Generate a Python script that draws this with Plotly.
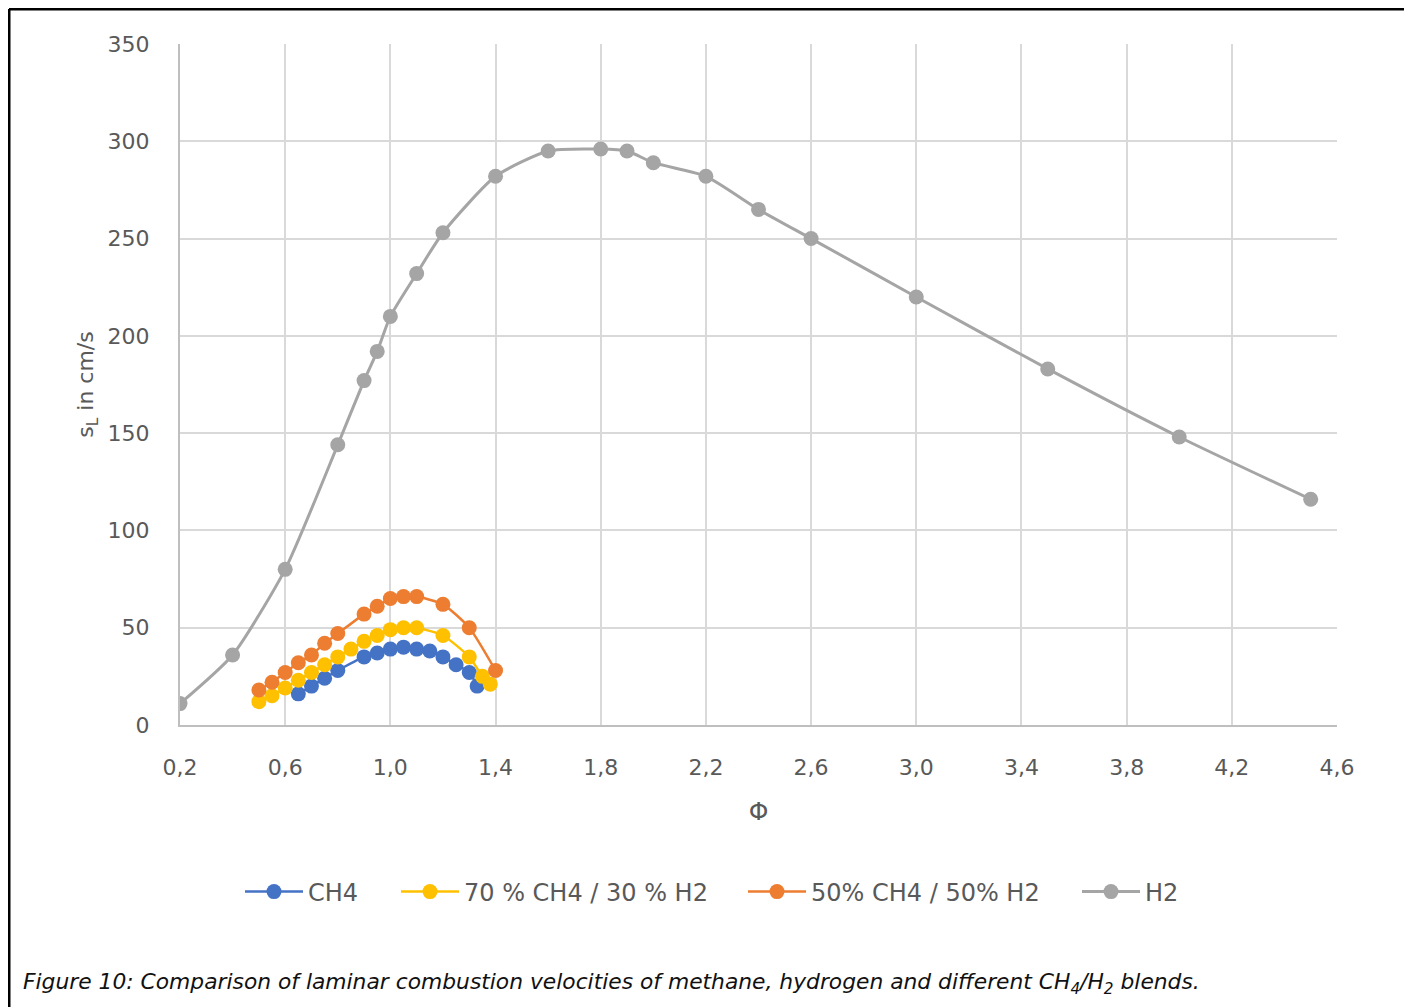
import plotly.graph_objects as go

# ---- data ----
ch4_x = [0.65, 0.7, 0.75, 0.8, 0.9, 0.95, 1.0, 1.05, 1.1, 1.15, 1.2, 1.25, 1.3, 1.33]
ch4_y = [16, 20, 24, 28, 35, 37, 39, 40, 39, 38, 35, 31, 27, 20]

b70_x = [0.5, 0.55, 0.6, 0.65, 0.7, 0.75, 0.8, 0.85, 0.9, 0.95, 1.0, 1.05, 1.1, 1.2, 1.3, 1.35, 1.38]
b70_y = [12, 15, 19, 23, 27, 31, 35, 39, 43, 46, 49, 50, 50, 46, 35, 25, 21]

b50_x = [0.5, 0.55, 0.6, 0.65, 0.7, 0.75, 0.8, 0.9, 0.95, 1.0, 1.05, 1.1, 1.2, 1.3, 1.4]
b50_y = [18, 22, 27, 32, 36, 42, 47, 57, 61, 65, 66, 66, 62, 50, 28]

h2_x = [0.2, 0.4, 0.6, 0.8, 0.9, 0.95, 1.0, 1.1, 1.2, 1.4, 1.6, 1.8, 1.9, 2.0, 2.2, 2.4, 2.6, 3.0, 3.5, 4.0, 4.5]
h2_y = [11, 36, 80, 144, 177, 192, 210, 232, 253, 282, 295, 296, 295, 289, 282, 265, 250, 220, 183, 148, 116]

series_names = ["CH4", "70 % CH4 / 30 % H2", "50% CH4 / 50% H2", "H2"]
series_x = [ch4_x, b70_x, b50_x, h2_x]
series_y = [ch4_y, b70_y, b50_y, h2_y]
series_colors = ["#4472c4", "#ffc000", "#ed7d31", "#a5a5a5"]
series_widths = [2.5, 2.5, 2.5, 3]
legend_left_px = [243, 399, 746, 1080]   # page x of each legend entry

x_ticks = [0.2, 0.6, 1.0, 1.4, 1.8, 2.2, 2.6, 3.0, 3.4, 3.8, 4.2, 4.6]
y_ticks = [0, 50, 100, 150, 200, 250, 300, 350]

caption = ("Figure 10: Comparison of laminar combustion velocities of methane, hydrogen and "
           "different CH<sub>4</sub>/H<sub>2</sub> blends.")

FONT = "DejaVu Sans"
GREY = "#595959"

# page has an 8px body margin; work in page pixel coords and shift
OFF = 8
W, H = 1412 - OFF, 1007 - OFF
L, R, T, B = 180 - OFF, W - (1337 - OFF), 44 - OFF, H - (725 - OFF)
pw, ph = W - L - R, H - T - B

def px(xp):
    return (xp - OFF - L) / pw

def py(yp):
    return (H - B - (yp - OFF)) / ph

fig = go.Figure()
legend_layouts = {}
for i, (name, xs, ys, col, lw) in enumerate(zip(series_names, series_x, series_y,
                                                 series_colors, series_widths)):
    lg = "legend" if i == 0 else f"legend{i + 1}"
    fig.add_trace(go.Scatter(
        x=xs, y=ys, name=name, mode="lines+markers",
        line=dict(color=col, width=lw, shape="spline", smoothing=0.6),
        marker=dict(color=col, size=15),
        legend=lg,
    ))
    legend_layouts[lg] = dict(
        orientation="h", x=px(legend_left_px[i] - 3), y=py(892),
        xanchor="left", yanchor="middle",
        font=dict(family=FONT, size=24, color=GREY), itemwidth=58,
        bgcolor="rgba(0,0,0,0)",
    )

fig.update_layout(
    width=W, height=H,
    margin=dict(l=L, r=R, t=T, b=B),
    plot_bgcolor="white", paper_bgcolor="white",
    separators=",.",
    font=dict(family=FONT, size=20, color=GREY),
    xaxis=dict(
        range=[0.2, 4.6], tickvals=x_ticks, tickformat=".1f",
        showgrid=True, gridcolor="#d9d9d9", gridwidth=2,
        showline=True, linecolor="#bfbfbf", linewidth=2,
        zeroline=False, ticks="", ticklabelstandoff=22,
        tickfont=dict(family=FONT, size=22, color=GREY),
        title=dict(text="Φ", font=dict(family=FONT, size=25, color=GREY), standoff=23),
    ),
    yaxis=dict(
        range=[0, 350], tickvals=y_ticks,
        showgrid=True, gridcolor="#d9d9d9", gridwidth=2,
        showline=True, linecolor="#bfbfbf", linewidth=2,
        zeroline=False, ticks="", ticklabelstandoff=24,
        tickfont=dict(family=FONT, size=22, color=GREY),
        title=dict(text="s<sub>L</sub> in cm/s", font=dict(family=FONT, size=22, color=GREY), standoff=8),
    ),
    showlegend=True,
    **legend_layouts,
)

# figure frame (left and top borders)
fig.add_shape(type="line", xref="paper", yref="paper",
              x0=px(9), x1=px(9), y0=py(9), y1=py(1010), line=dict(color="black", width=3))
fig.add_shape(type="line", xref="paper", yref="paper",
              x0=px(9), x1=px(1412), y0=py(9), y1=py(9), line=dict(color="black", width=3))

fig.add_annotation(
    text=caption, xref="paper", yref="paper", x=px(21), y=py(983),
    xanchor="left", yanchor="middle", showarrow=False,
    font=dict(family=FONT, size=21.8, color="#111111", style="italic"),
)

fig.write_html("out.html")
